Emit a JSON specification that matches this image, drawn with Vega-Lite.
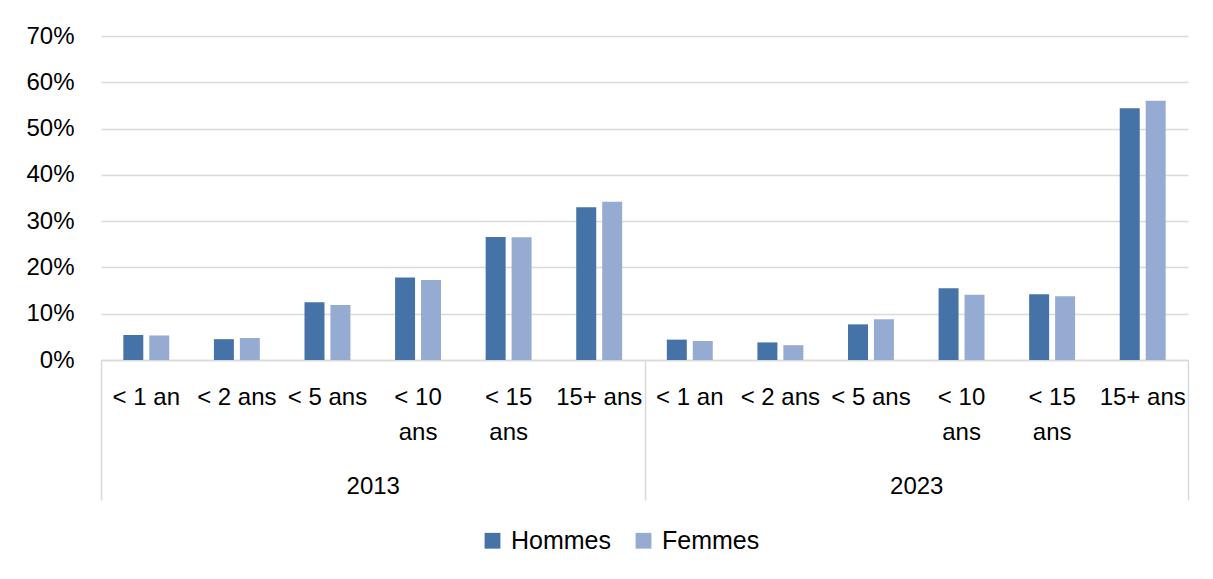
{
  "$schema": "https://vega.github.io/schema/vega-lite/v6.json",
  "autosize": "none",
  "width": 1087,
  "height": 324,
  "padding": {"left": 101, "top": 36, "right": 25, "bottom": 219},
  "background": "white",
  "config": {
    "font": "Liberation Sans",
    "view": {"stroke": null},
    "axis": {"labelColor": "#000000", "labelFontSize": 24, "labelFont": "Liberation Sans"}
  },
  "data": {
    "values": [
      {"year": "2013", "key": "2013|< 1 an", "sex": "Hommes", "value": 0.054},
      {"year": "2013", "key": "2013|< 1 an", "sex": "Femmes", "value": 0.053},
      {"year": "2013", "key": "2013|< 2 ans", "sex": "Hommes", "value": 0.045},
      {"year": "2013", "key": "2013|< 2 ans", "sex": "Femmes", "value": 0.0475},
      {"year": "2013", "key": "2013|< 5 ans", "sex": "Hommes", "value": 0.125},
      {"year": "2013", "key": "2013|< 5 ans", "sex": "Femmes", "value": 0.119},
      {"year": "2013", "key": "2013|< 10|ans", "sex": "Hommes", "value": 0.178},
      {"year": "2013", "key": "2013|< 10|ans", "sex": "Femmes", "value": 0.173},
      {"year": "2013", "key": "2013|< 15|ans", "sex": "Hommes", "value": 0.266},
      {"year": "2013", "key": "2013|< 15|ans", "sex": "Femmes", "value": 0.265},
      {"year": "2013", "key": "2013|15+ ans", "sex": "Hommes", "value": 0.330},
      {"year": "2013", "key": "2013|15+ ans", "sex": "Femmes", "value": 0.342},
      {"year": "2023", "key": "2023|< 1 an", "sex": "Hommes", "value": 0.044},
      {"year": "2023", "key": "2023|< 1 an", "sex": "Femmes", "value": 0.041},
      {"year": "2023", "key": "2023|< 2 ans", "sex": "Hommes", "value": 0.038},
      {"year": "2023", "key": "2023|< 2 ans", "sex": "Femmes", "value": 0.032},
      {"year": "2023", "key": "2023|< 5 ans", "sex": "Hommes", "value": 0.077},
      {"year": "2023", "key": "2023|< 5 ans", "sex": "Femmes", "value": 0.088},
      {"year": "2023", "key": "2023|< 10|ans", "sex": "Hommes", "value": 0.155},
      {"year": "2023", "key": "2023|< 10|ans", "sex": "Femmes", "value": 0.141},
      {"year": "2023", "key": "2023|< 15|ans", "sex": "Hommes", "value": 0.142},
      {"year": "2023", "key": "2023|< 15|ans", "sex": "Femmes", "value": 0.138},
      {"year": "2023", "key": "2023|15+ ans", "sex": "Hommes", "value": 0.544},
      {"year": "2023", "key": "2023|15+ ans", "sex": "Femmes", "value": 0.560}
    ]
  },
  "layer": [
    {
      "mark": {"type": "bar", "opacity": 0},
      "encoding": {
        "x": {
          "field": "year",
          "type": "nominal",
          "sort": null,
          "scale": {"paddingInner": 0, "paddingOuter": 0},
          "axis": {
            "title": null,
            "orient": "bottom",
            "domain": false,
            "ticks": true,
            "tickBand": "extent",
            "tickSize": 140,
            "tickColor": "#d9d9d9",
            "tickWidth": 1.5,
            "labelAngle": 0,
            "labelPadding": -26,
            "labelFontSize": 24
          }
        }
      }
    },
    {
      "mark": {"type": "bar"},
      "encoding": {
        "x": {
          "field": "key",
          "type": "nominal",
          "sort": null,
          "scale": {"paddingInner": 0, "paddingOuter": 0},
          "axis": {
            "title": null,
            "orient": "bottom",
            "domain": true,
            "domainColor": "#d9d9d9",
            "domainWidth": 1.5,
            "ticks": false,
            "labelAngle": 0,
            "labelPadding": 25,
            "labelLineHeight": 35,
            "labelOverlap": false,
            "labelExpr": "slice(split(datum.value, '|'), 1)"
          }
        },
        "xOffset": {
          "field": "sex",
          "type": "nominal",
          "sort": ["Hommes", "Femmes"],
          "scale": {"paddingInner": 0.23, "paddingOuter": 0.86}
        },
        "y": {
          "field": "value",
          "type": "quantitative",
          "stack": null,
          "scale": {"domain": [0, 0.7], "nice": false},
          "axis": {
            "title": null,
            "values": [0, 0.1, 0.2, 0.3, 0.4, 0.5, 0.6, 0.7],
            "format": ".0%",
            "domain": false,
            "ticks": false,
            "grid": true,
            "gridColor": "#d9d9d9",
            "gridWidth": 1.5,
            "labelPadding": 27
          }
        },
        "color": {
          "field": "sex",
          "type": "nominal",
          "sort": ["Hommes", "Femmes"],
          "scale": {"domain": ["Hommes", "Femmes"], "range": ["#4673a7", "#96abd1"]},
          "legend": {
            "title": null,
            "orient": "none",
            "direction": "horizontal",
            "legendX": 379,
            "legendY": 492,
            "symbolType": "square",
            "symbolSize": 250,
            "symbolStrokeWidth": 0,
            "labelFontSize": 25,
            "labelColor": "#000000",
            "labelOffset": 6,
            "columnPadding": 19
          }
        }
      }
    }
  ],
  "resolve": {"scale": {"x": "independent"}, "axis": {"x": "independent"}}
}
